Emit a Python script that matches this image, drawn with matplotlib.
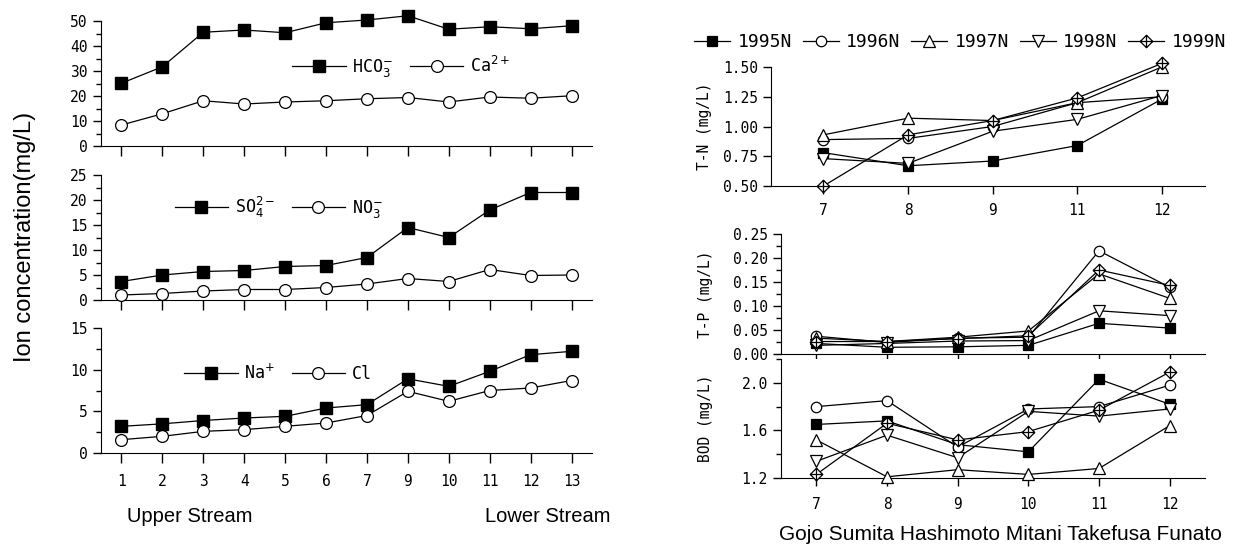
import matplotlib
matplotlib.use('Agg')
import matplotlib.pyplot as plt
from matplotlib.path import Path
from matplotlib.lines import Line2D
from matplotlib.ticker import MultipleLocator, FormatStrFormatter

# 이온 농도 (상류 -> 하류)
sites = ['1', '2', '3', '4', '5', '6', '7', '9', '10', '11', '12', '13']
hco3 = [25.1, 31.7, 45.5, 46.4, 45.3, 49.3, 50.4, 52.1, 46.7, 47.7, 46.9, 48.1]
ca = [8.4, 12.9, 18.1, 16.8, 17.6, 18.1, 18.9, 19.4, 17.6, 19.6, 19.1, 20.1]
so4 = [3.7, 5.0, 5.7, 5.9, 6.7, 6.9, 8.5, 14.5, 12.5, 18.0, 21.5, 21.5]
no3 = [1.0, 1.3, 1.8, 2.1, 2.1, 2.5, 3.2, 4.3, 3.7, 6.1, 4.9, 5.0]
na = [3.2, 3.5, 3.9, 4.2, 4.4, 5.4, 5.8, 8.9, 8.0, 9.8, 11.8, 12.2]
cl = [1.6, 2.0, 2.6, 2.8, 3.2, 3.6, 4.5, 7.4, 6.2, 7.5, 7.8, 8.7]

# 연도별 수질 (T-N, T-P, BOD)
years = ['1995N', '1996N', '1997N', '1998N', '1999N']
tn_sites = ['7', '8', '9', '11', '12']
tn_values = [
    [0.78, 0.67, 0.71, 0.84, 1.23],
    [0.89, 0.90, 1.00, 1.20, 1.25],
    [0.93, 1.07, 1.05, 1.20, 1.50],
    [0.73, 0.69, 0.96, 1.06, 1.26],
    [0.50, 0.93, 1.05, 1.24, 1.53],
]
tp_sites = ['7', '8', '9', '10', '11', '12']
tp_values = [
    [0.022, 0.014, 0.015, 0.018, 0.064, 0.054],
    [0.037, 0.024, 0.033, 0.035, 0.215, 0.139],
    [0.033, 0.026, 0.035, 0.048, 0.167, 0.116],
    [0.018, 0.022, 0.027, 0.028, 0.090, 0.080],
    [0.026, 0.026, 0.032, 0.038, 0.175, 0.143],
]
bod_sites = ['7', '8', '9', '10', '11', '12']
bod_values = [
    [1.65, 1.68, 1.48, 1.42, 2.03, 1.82],
    [1.80, 1.85, 1.46, 1.78, 1.80, 1.98],
    [1.52, 1.21, 1.27, 1.23, 1.28, 1.64],
    [1.34, 1.56, 1.37, 1.76, 1.72, 1.78],
    [1.23, 1.66, 1.52, 1.59, 1.77, 2.09],
]

plt.rcParams['font.family'] = ['DejaVu Sans Mono']
plt.rcParams['mathtext.fontset'] = 'dejavusans'

# 십자 다이아몬드 마커
diamond_cross = Path(
    [(0, 1), (1, 0), (0, -1), (-1, 0), (0, 1), (0, 1), (0, -1), (-1, 0), (1, 0)],
    [Path.MOVETO, Path.LINETO, Path.LINETO, Path.LINETO, Path.CLOSEPOLY,
     Path.MOVETO, Path.LINETO, Path.MOVETO, Path.LINETO])
year_markers = ['s', 'o', '^', 'v', diamond_cross]
year_fill = ['k', 'w', 'w', 'w', 'w']
year_size = [7, 7.5, 8, 8, 9]

W, H = 1233, 545
fig = plt.figure(figsize=(W / 100, H / 100), dpi=100)


def box(x0, x1, ytop, ybot):
    return [x0 / W, 1 - ybot / H, (x1 - x0) / W, (ybot - ytop) / H]


def style(ax):
    for s in ['top', 'right']:
        ax.spines[s].set_visible(False)
    ax.tick_params(which='major', direction='out', length=6, width=1, labelsize=10.5)
    ax.tick_params(which='minor', direction='out', length=3.5, width=1)


# ---- 왼쪽: 이온 농도 ----
left_panels = [
    (21, 146, hco3, ca, 'HCO$_3^{-}$', 'Ca$^{2+}$', 50, 10, 5, (0.39, 0.63)),
    (175, 300, so4, no3, 'SO$_4^{2-}$', 'NO$_3^{-}$', 25, 5, 2.5, (0.15, 0.74)),
    (328, 453, na, cl, 'Na$^{+}$', 'Cl', 15, 5, 2.5, (0.17, 0.64)),
]
x = list(range(len(sites)))
for i, (yt, yb, s1, s2, l1, l2, ymax, maj, mnr, lpos) in enumerate(left_panels):
    ax = fig.add_axes(box(101, 592, yt, yb))
    ax.plot(x, s1, color='k', lw=0.9, marker='s', ms=8, mfc='k', mec='k',
            label=l1, clip_on=False, zorder=3)
    ax.plot(x, s2, color='k', lw=0.9, marker='o', ms=8.5, mfc='w', mec='k',
            mew=0.9, label=l2, clip_on=False, zorder=3)
    ax.set_xlim(-0.5, len(sites) - 0.5)
    ax.set_ylim(0, ymax)
    ax.yaxis.set_major_locator(MultipleLocator(maj))
    ax.yaxis.set_minor_locator(MultipleLocator(mnr))
    ax.set_xticks(x)
    style(ax)
    ax.tick_params(axis='x', length=7)
    if i == 2:
        ax.set_xticklabels(sites)
        ax.tick_params(axis='x', pad=8)
    else:
        ax.set_xticklabels([])
    ax.legend(loc='center left', bbox_to_anchor=lpos, ncol=2, frameon=False,
              fontsize=12, handlelength=3.2, handletextpad=0.4, columnspacing=1.0,
              borderpad=0, borderaxespad=0)

fig.text(25 / W, 1 - 237 / H, 'Ion concentration(mg/L)', rotation=90,
         ha='center', va='center', family='Liberation Sans', fontsize=17)
fig.text(190 / W, 1 - 517 / H, 'Upper Stream', ha='center', va='center',
         family='Liberation Sans', fontsize=14.5)
fig.text(548 / W, 1 - 517 / H, 'Lower Stream', ha='center', va='center',
         family='Liberation Sans', fontsize=14.5)


# ---- 오른쪽: T-N, T-P, BOD ----
def year_lines(ax, values):
    for k, vals in enumerate(values):
        ax.plot(range(len(vals)), vals, color='k', lw=0.9, marker=year_markers[k],
                ms=year_size[k], mfc=year_fill[k], mec='k', mew=0.9,
                clip_on=False, zorder=3)


ax_tn = fig.add_axes(box(771, 1205, 67, 186))
year_lines(ax_tn, tn_values)
ax_tn.set_xlim(-0.62, 4.51)
ax_tn.set_ylim(0.5, 1.5)
ax_tn.yaxis.set_major_locator(MultipleLocator(0.25))
ax_tn.yaxis.set_major_formatter(FormatStrFormatter('%.2f'))
ax_tn.set_xticks(range(len(tn_sites)))
ax_tn.set_xticklabels(tn_sites)
style(ax_tn)
ax_tn.tick_params(axis='x', pad=6)
ax_tn.set_ylabel('T-N (mg/L)', fontsize=10.5)
ax_tn.yaxis.set_label_coords(-0.135, 0.5)

ax_tp = fig.add_axes(box(781, 1205, 234, 354))
year_lines(ax_tp, tp_values)
ax_tp.set_xlim(-0.5, 5.5)
ax_tp.set_ylim(0, 0.25)
ax_tp.yaxis.set_major_locator(MultipleLocator(0.05))
ax_tp.yaxis.set_minor_locator(MultipleLocator(0.025))
ax_tp.yaxis.set_major_formatter(FormatStrFormatter('%.2f'))
ax_tp.set_xticks(range(len(tp_sites)))
ax_tp.set_xticklabels([])
style(ax_tp)
ax_tp.set_ylabel('T-P (mg/L)', fontsize=10.5)
ax_tp.yaxis.set_label_coords(-0.16, 0.5)

ax_bod = fig.add_axes(box(781, 1205, 359, 478))
year_lines(ax_bod, bod_values)
ax_bod.set_xlim(-0.5, 5.5)
ax_bod.set_ylim(1.2, 2.2)
ax_bod.set_yticks([1.2, 1.6, 2.0])
ax_bod.yaxis.set_minor_locator(MultipleLocator(0.2))
ax_bod.yaxis.set_major_formatter(FormatStrFormatter('%.1f'))
ax_bod.set_xticks(range(len(bod_sites)))
ax_bod.set_xticklabels(bod_sites)
style(ax_bod)
ax_bod.tick_params(axis='x', pad=8)
ax_bod.set_ylabel('BOD (mg/L)', fontsize=10.5)
ax_bod.yaxis.set_label_coords(-0.16, 0.5)

fig.text(1000 / W, 1 - 535 / H, 'Gojo Sumita Hashimoto Mitani Takefusa Funato',
         ha='center', va='center', family='Liberation Sans', fontsize=15)

handles = [Line2D([], [], color='k', lw=0.9, marker=year_markers[k], ms=year_size[k],
                  mfc=year_fill[k], mec='k', mew=0.9) for k in range(len(years))]
fig.legend(handles, years, loc='center left', bbox_to_anchor=(694 / W, 1 - 42 / H),
           ncol=5, frameon=False, fontsize=13, handlelength=2.0, handletextpad=0.4,
           columnspacing=0.6, borderpad=0, borderaxespad=0)

fig.savefig('out.png', dpi=100)
